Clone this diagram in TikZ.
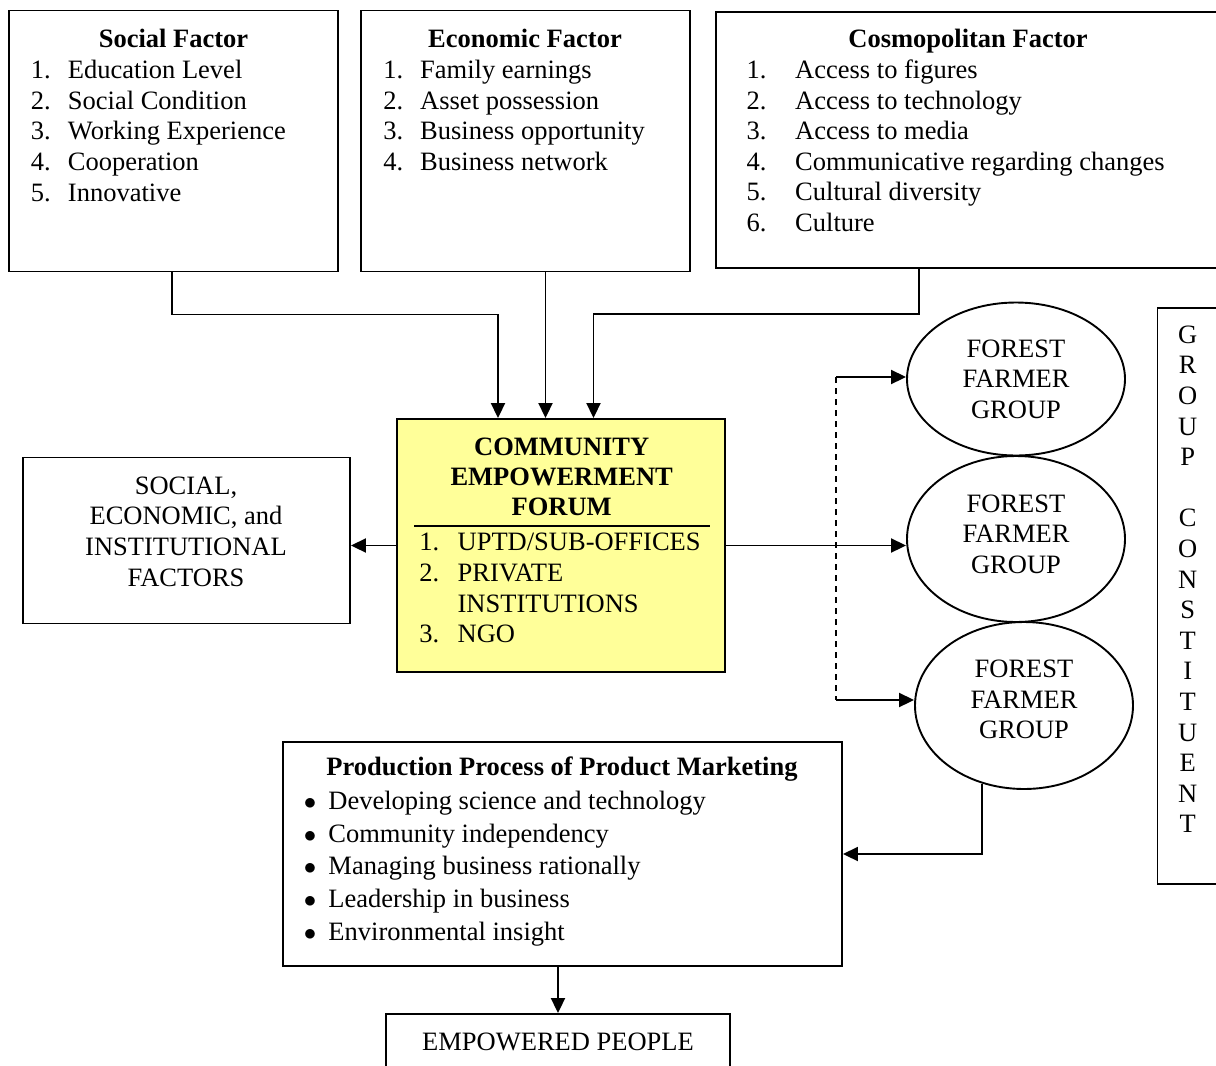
\documentclass[tikz,border=0pt]{standalone}
\usepackage{fontspec}
\setmainfont{Liberation Serif}
\usetikzlibrary{arrows.meta,shapes.geometric}
\definecolor{forumyellow}{HTML}{FFFF99}
\newcommand{\bodysize}{\fontsize{26.5}{30.6}\selectfont}
\newcommand{\listno}[2][37pt]{\makebox[#1][l]{#2}}
\newcommand{\ystrut}{\rule{0pt}{22pt}}
\newcommand{\bigdot}{$\bullet$}
\begin{document}
\begin{tikzpicture}[x=1pt, y=-1pt, line width=1.9pt,
  every node/.style={font=\bodysize, inner sep=0pt},
  box/.style={draw, rectangle},
  farmer/.style={draw, ellipse, align=center, minimum width=218pt},
  title/.style={font=\bodysize\bfseries, anchor=base},
  txt/.style={align=left, anchor=north west},
  arr/.style={-{Triangle[length=15pt,width=14pt]}},
  dashline/.style={dash pattern=on 6pt off 5pt, line width=1.5pt}]
\useasboundingbox (0,0) rectangle (1216,1066);
\clip (0,0) rectangle (1216,1066);
\begin{scope}
% factor boxes
\node[box, minimum width=329pt, minimum height=261pt] (social) at (173.5,141) {};
\node[box, minimum width=329pt, minimum height=261pt] (econ) at (525.5,141) {};
\node[box, minimum width=514pt, minimum height=256pt] (cosmo) at (973,140) {};
\node[title] (socialT) at (173.5,47) {Social Factor};
\node[title] (econT) at (525,47) {Economic Factor};
\node[title] (cosmoT) at (968,47.5) {Cosmopolitan Factor};
\node[txt] (socialL) at (30,55.7) {\ystrut\listno{1.}Education Level\\\listno{2.}Social Condition\\\listno{3.}Working Experience\\\listno{4.}Cooperation\\\listno{5.}Innovative};
\node[txt] (econL) at (382.3,55.7) {\ystrut\listno{1.}Family earnings\\\listno{2.}Asset possession\\\listno{3.}Business opportunity\\\listno{4.}Business network};
\node[txt] (cosmoL) at (745.7,55.5) {\ystrut\listno[48.6pt]{1.}Access to figures\\\listno[48.6pt]{2.}Access to technology\\\listno[48.6pt]{3.}Access to media\\\listno[48.6pt]{4.}Communicative regarding changes\\\listno[48.6pt]{5.}Cultural diversity\\\listno[48.6pt]{6.}Culture};
% forum
\node[box, fill=forumyellow, minimum width=328pt, minimum height=253pt] (forum) at (561,545.5) {};
\node[align=center, anchor=north, font=\fontsize{26.5}{30}\selectfont\bfseries] (forumT) at (561.7,433) {\ystrut COMMUNITY\\EMPOWERMENT\\FORUM};
\draw (414,526) -- (710,526);
\node[txt] (forumL) at (418.3,528) {\ystrut\listno[38.4pt]{1.}UPTD/SUB-OFFICES\\\listno[38.4pt]{2.}PRIVATE\\\listno[38.4pt]{}INSTITUTIONS\\\listno[38.4pt]{3.}NGO};
\node[box, minimum width=327pt, minimum height=166pt] (factors) at (186.5,540.5) {};
\node[align=center, anchor=north] (factorsT) at (186,471.3) {\ystrut SOCIAL,\\ECONOMIC, and\\INSTITUTIONAL\\FACTORS};
% farmer groups
\node[farmer, minimum height=153pt] (ff1) at (1016,379) {FOREST\\FARMER\\GROUP};
\node[farmer, minimum height=166pt] (ff2) at (1016,539) {FOREST\\FARMER\\GROUP\rule[-10pt]{0pt}{0pt}};
\node[farmer, minimum height=167pt] (ff3) at (1024,705.5) {FOREST\\FARMER\\GROUP\rule[-12pt]{0pt}{0pt}};
\node[box, minimum width=72.5pt, minimum height=576pt] (grp) at (1193.7,596) {};
\node[align=center, anchor=north] (grpT) at (1187.7,320.3) {\ystrut G\\R\\O\\U\\P\\\mbox{}\\C\\O\\N\\S\\T\\I\\T\\U\\E\\N\\T};
% production and result
\node[box, minimum width=559pt, minimum height=224pt] (prod) at (562.5,854) {};
\node[title] (prodT) at (562,775.7) {Production Process of Product Marketing};
\node[txt, font=\fontsize{26.5}{32.8}\selectfont] (prodL) at (303,786.3) {\ystrut\listno[24.5pt]{\bigdot}Developing science and technology\\\listno[24.5pt]{\bigdot}Community independency\\\listno[24.5pt]{\bigdot}Managing business rationally\\\listno[24.5pt]{\bigdot}Leadership in business\\\listno[24.5pt]{\bigdot}Environmental insight};
\node[box, minimum width=344pt, minimum height=70pt] (emp) at (558,1049) {};
\node[anchor=base] (empT) at (558,1050) {EMPOWERED PEOPLE};
\coordinate (dtop) at (836,377);
\coordinate (dbot) at (836,700);
\end{scope}
\begin{scope}
\draw[arr] ([xshift=-1.5pt]social.south) -- ++(0,42) -| ([xshift=-63pt]forum.north);
\draw[arr] ([xshift=20pt]econ.south) -- ([xshift=-15.5pt]forum.north);
\draw[arr] ([xshift=-54pt]cosmo.south) -- ++(0,45) -| ([xshift=32.5pt]forum.north);
\draw[arr] (forum.west) -- (forum.west -| factors.east);
\draw[arr] (forum.east) -- (forum.east -| ff2.west);
\draw[dashline] (dtop) -- (dbot);
\draw[arr] (dtop) -- (dtop -| ff1.west);
\draw[arr] (dbot) -- (dbot -| ff3.west);
\draw[arr] (ff3.-118) |- (prod.east);
\draw[arr] (prod.south -| emp.north) -- (emp.north);
\end{scope}
\end{tikzpicture}
\end{document}
